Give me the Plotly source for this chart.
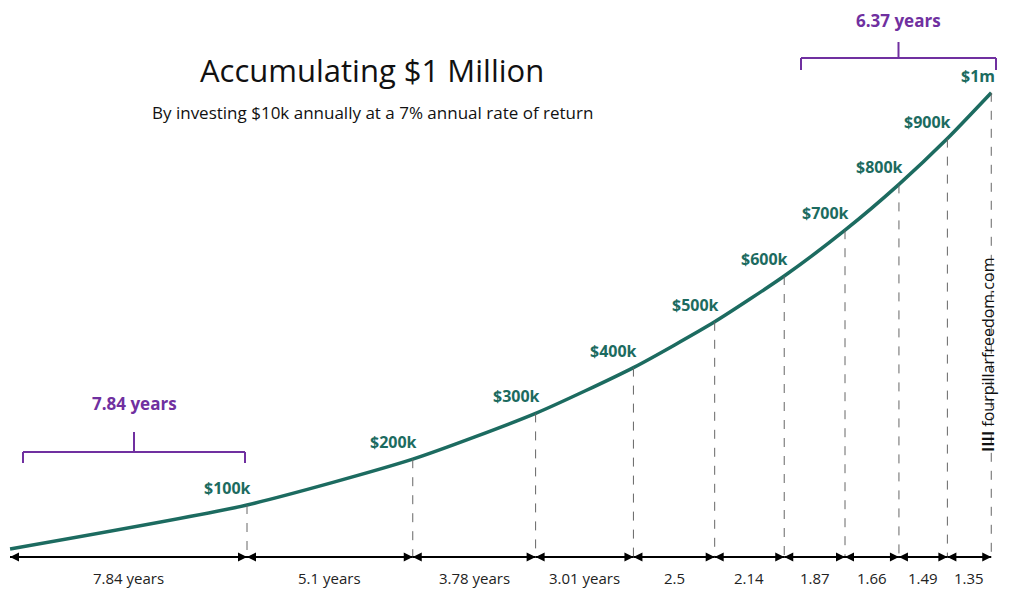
import plotly.graph_objects as go

years = [0.55, 7.84, 12.94, 16.72, 19.73, 22.23, 24.37, 26.24, 27.90, 29.39, 30.74]
values = [4000, 100000, 200000, 300000, 400000, 500000, 600000, 700000, 800000, 900000, 1000000]
labels = ["", "$100k", "$200k", "$300k", "$400k", "$500k", "$600k", "$700k", "$800k", "$900k", "$1m"]
gap_labels = ["7.84 years", "5.1 years", "3.78 years", "3.01 years", "2.5", "2.14", "1.87", "1.66", "1.49", "1.35"]

W, H = 1014, 595
OFF = 8
XS = 32.5
YS = 45.8 / 100000
X0 = 7.84 - (247 - OFF) / XS
X1 = X0 + W / XS
Y1 = 100000 + (505 - OFF) / YS
Y0 = Y1 - H / YS
def px(p): return X0 + (p - OFF) / XS
def py(p): return Y1 - (p - OFF) / YS

teal = "#1c6b60"
purple = "#7030a0"
fig = go.Figure()
fig.add_trace(go.Scatter(x=years, y=values, mode="lines", line=dict(color=teal, width=3.5, shape="spline", smoothing=0.6), hoverinfo="skip"))

shapes, ann = [], []
arrow_y = py(557)
for i in range(1, len(years)):
    shapes.append(dict(type="line", x0=years[i], x1=years[i], y0=values[i], y1=arrow_y, line=dict(color="#666", width=1, dash="dash")))
    ann.append(dict(x=years[i], y=values[i], text="<b>" + labels[i] + "</b>", showarrow=False, xanchor="right", yanchor="bottom", xshift=6, yshift=4, font=dict(color=teal, size=16)))
starts = [px(10)] + years[1:-1]
for i, g in enumerate(gap_labels):
    a, b = starts[i], years[i + 1]
    shapes.append(dict(type="line", x0=a, x1=b, y0=arrow_y, y1=arrow_y, line=dict(color="black", width=1.8)))
    for e, d in ((a, 10), (b, -10)):
        ann.append(dict(x=e, y=arrow_y, ax=d, ay=0, showarrow=True, arrowhead=2, arrowsize=1, arrowwidth=1.8, arrowcolor="black", text="", standoff=0, startstandoff=0))
    ann.append(dict(x=(a + b) / 2, y=py(578), text=g, showarrow=False, font=dict(size=15, color="#222")))

def bracket(xa, xb, yl, yend, ytop, label, ylab):
    shapes.extend([
        dict(type="line", x0=px(xa), x1=px(xb), y0=py(yl), y1=py(yl), line=dict(color=purple, width=2)),
        dict(type="line", x0=px(xa), x1=px(xa), y0=py(yl), y1=py(yend), line=dict(color=purple, width=2)),
        dict(type="line", x0=px(xb), x1=px(xb), y0=py(yl), y1=py(yend), line=dict(color=purple, width=2)),
        dict(type="line", x0=px((xa + xb) / 2), x1=px((xa + xb) / 2), y0=py(yl), y1=py(ytop), line=dict(color=purple, width=2)),
    ])
    ann.append(dict(x=px((xa + xb) / 2), y=py(ylab), text="<b>" + label + "</b>", showarrow=False, font=dict(color=purple, size=17)))
bracket(23, 245, 452, 463, 432, "7.84 years", 403)
bracket(801, 996, 58, 70, 42, "6.37 years", 20)

ann.append(dict(x=px(372), y=py(70), text="Accumulating $1 Million", showarrow=False, font=dict(size=31, color="#111")))
ann.append(dict(x=px(372), y=py(112), text="By investing $10k annually at a 7% annual rate of return", showarrow=False, font=dict(size=17, color="#111")))
ann.append(dict(x=px(988), y=py(355), text="<b>IIII</b> fourpillarfreedom.com", textangle=-90, showarrow=False, font=dict(size=16, color="#111")))

fig.update_layout(width=W, height=H, margin=dict(l=0, r=0, t=0, b=0), plot_bgcolor="white", paper_bgcolor="white",
                  showlegend=False, shapes=shapes, annotations=ann, font=dict(family="Open Sans"),
                  xaxis=dict(range=[X0, X1], visible=False), yaxis=dict(range=[Y0, Y1], visible=False))
fig.write_html("out.html")
